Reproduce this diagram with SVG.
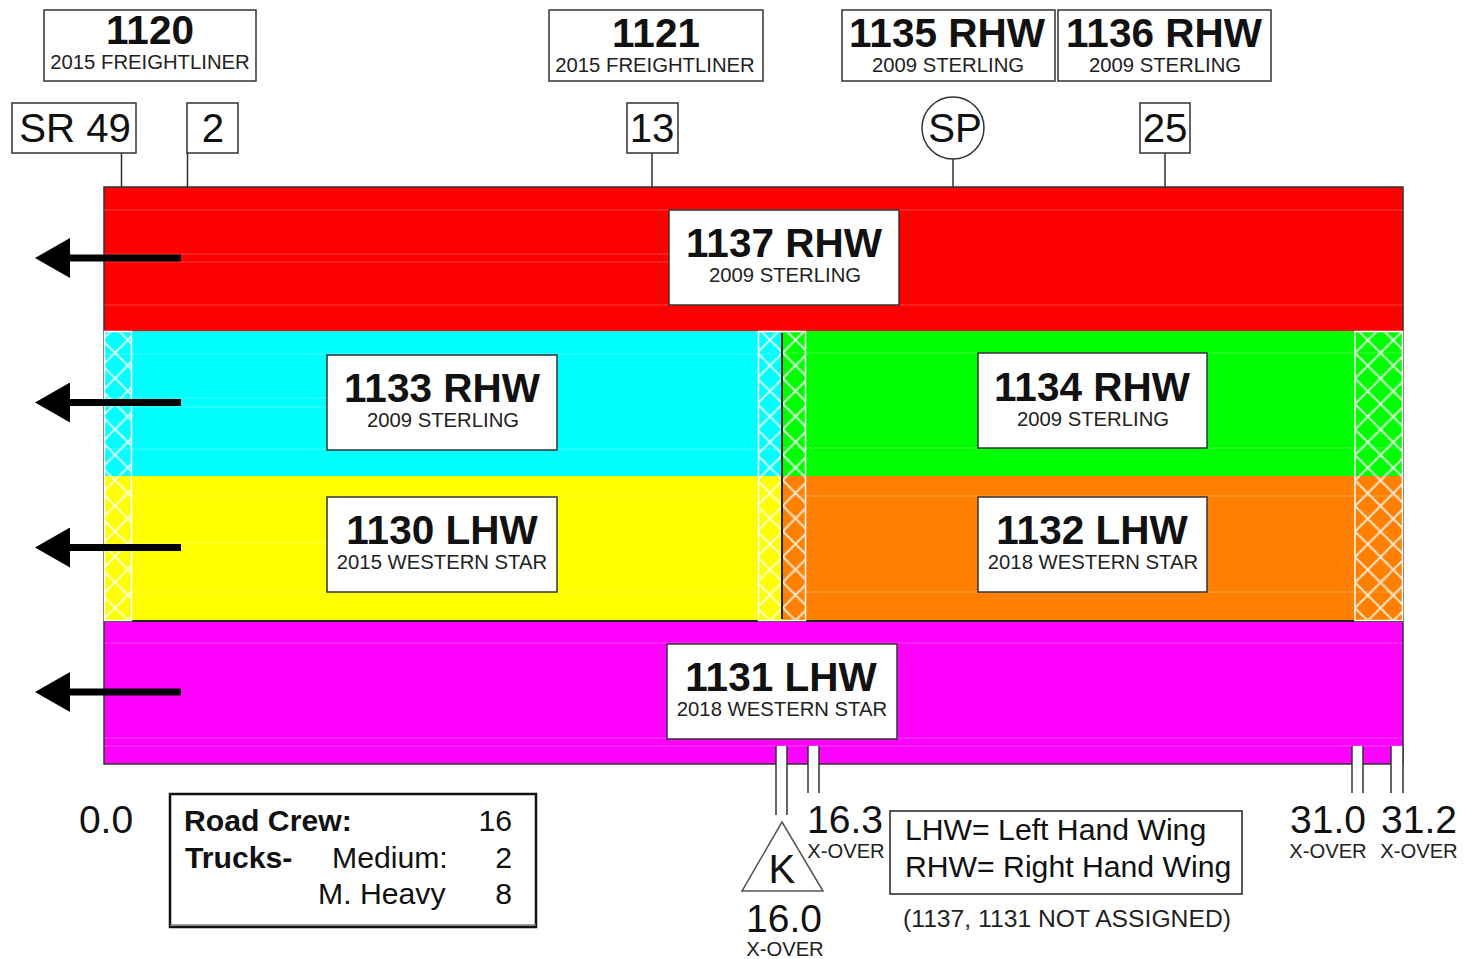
<svg xmlns="http://www.w3.org/2000/svg" width="1466" height="959" viewBox="0 0 1466 959">
<style>
text{font-family:"Liberation Sans",Arial,sans-serif;fill:#111;text-anchor:middle}
.box{fill:#fff;stroke:#333;stroke-width:1.5}
.nm{font-size:40.500px;font-weight:bold}
.sub{font-size:20.300px;fill:#222}
.tag{font-size:40.200px}
.mile{font-size:39px}
.xo{font-size:20.200px;fill:#222}
.ln{stroke:#333;stroke-width:1.5;fill:none}
.faint{stroke:#fff;stroke-opacity:.25;stroke-width:1}
.hb{stroke:#fff;stroke-width:1.5}
.arrow{stroke:#000;stroke-width:7;fill:none}
.leg{font-size:30.200px;text-anchor:start}
</style>
<defs>
<pattern id="h" width="25.500" height="25.500" patternUnits="userSpaceOnUse" x="102.250" y="340">
<path d="M0 0L25.500 25.500M25.500 0L0 25.500" stroke="#fff" stroke-opacity=".8" stroke-width="2" fill="none"/>
</pattern>
<pattern id="h2" href="#h" x="757.250" y="327.250"/>
<pattern id="h3" href="#h" x="1355" y="353"/>
<marker id="ah" markerUnits="userSpaceOnUse" markerWidth="36" markerHeight="40" refX="0" refY="20" orient="auto"><path d="M0 0L0 40L35 20Z" fill="#000"/></marker>
</defs>

<g id="bands">
<rect x="104" y="187" width="1299" height="144" fill="#f00"/>
<rect x="104" y="331" width="678" height="145" fill="#0ff"/>
<rect x="782" y="331" width="621" height="145" fill="#0f0"/>
<rect x="104" y="476" width="678" height="145" fill="#ff0"/>
<rect x="782" y="476" width="621" height="145" fill="#ff8000"/>
<rect x="104" y="621" width="1299" height="143" fill="#f0f"/>
<path class="faint" d="M104 210H1403M104 254H669M104 262H669M104 305H1403M104 354H782M104 398H327M104 407H327M104 449H782M782 353H1403M782 448H1403M104 496H1403M104 543H327M104 592H1403M104 643H1403M104 738H1403M104 746H1403"/>
<path d="M104 621H1403" stroke="#222" stroke-width="2" fill="none"/>
<rect x="104" y="187" width="1299" height="577" fill="none" stroke="#333" stroke-width="1.5"/>
<g class="hb">
<rect x="104.500" y="331.500" width="27" height="289" fill="url(#h)"/>
<rect x="758.500" y="331.500" width="47" height="289" fill="url(#h2)"/>
<rect x="1355" y="331.500" width="47.500" height="289" fill="url(#h3)"/>
</g>
<path d="M782 333V619" stroke="#222" stroke-width="2"/>
</g>

<g id="connectors">
<path class="ln" d="M121.500 153V187M187.500 153V187M652 153V187M953 159V187M1165 153V187"/>
<path class="arrow" d="M181 258H70" marker-end="url(#ah)"/>
<path class="arrow" d="M181 402.500H70" marker-end="url(#ah)"/>
<path class="arrow" d="M181 547.500H70" marker-end="url(#ah)"/>
<path class="arrow" d="M181 692H70" marker-end="url(#ah)"/>
</g>

<g id="xovers">
<rect x="776" y="746" width="11" height="19" fill="#fff"/>
<rect x="808" y="746" width="11" height="19" fill="#fff"/>
<rect x="1352" y="746" width="11" height="19" fill="#fff"/>
<rect x="1391" y="746" width="12" height="19" fill="#fff"/>
<path class="ln" d="M776 746V815M787 746V815M808 746V793M819 746V793M1352 746V793M1363 746V793M1391 746V793M1403 746V793"/>
</g>

<g id="n1120"><rect class="box" x="44" y="10" width="212" height="71"/><text class="nm" x="150" y="44">1120</text><text class="sub" x="150" y="69">2015 FREIGHTLINER</text></g>
<g id="n1121"><rect class="box" x="549" y="10" width="214" height="71"/><text class="nm" x="656" y="47">1121</text><text class="sub" x="655" y="72">2015 FREIGHTLINER</text></g>
<g id="n1135"><rect class="box" x="842" y="10" width="213" height="71"/><text class="nm" x="947" y="47">1135 RHW</text><text class="sub" x="948" y="72">2009 STERLING</text></g>
<g id="n1136"><rect class="box" x="1058" y="10" width="213" height="71"/><text class="nm" x="1164" y="47">1136 RHW</text><text class="sub" x="1165" y="72">2009 STERLING</text></g>

<g id="sr49"><rect class="box" x="12" y="103" width="124" height="50"/><text class="tag" x="75" y="142">SR 49</text></g>
<g id="m2"><rect class="box" x="187" y="103" width="51" height="50"/><text class="tag" x="213" y="142">2</text></g>
<g id="m13"><rect class="box" x="627" y="103" width="51" height="50"/><text class="tag" x="652" y="142">13</text></g>
<g id="sp"><circle class="box" cx="953" cy="128" r="31"/><text class="tag" x="955" y="142">SP</text></g>
<g id="m25"><rect class="box" x="1140" y="103" width="50" height="50"/><text class="tag" x="1165" y="142">25</text></g>

<g id="n1137"><rect class="box" x="669" y="210" width="230" height="95"/><text class="nm" x="784" y="257">1137 RHW</text><text class="sub" x="785" y="282">2009 STERLING</text></g>
<g id="n1133"><rect class="box" x="327" y="355" width="230" height="95"/><text class="nm" x="442" y="402">1133 RHW</text><text class="sub" x="443" y="427">2009 STERLING</text></g>
<g id="n1134"><rect class="box" x="978" y="353" width="229" height="95"/><text class="nm" x="1092" y="401">1134 RHW</text><text class="sub" x="1093" y="426">2009 STERLING</text></g>
<g id="n1130"><rect class="box" x="327" y="497" width="230" height="95"/><text class="nm" x="442" y="544">1130 LHW</text><text class="sub" x="442" y="569">2015 WESTERN STAR</text></g>
<g id="n1132"><rect class="box" x="978" y="497" width="229" height="95"/><text class="nm" x="1092" y="544">1132 LHW</text><text class="sub" x="1093" y="569">2018 WESTERN STAR</text></g>
<g id="n1131"><rect class="box" x="667" y="644" width="230" height="95"/><text class="nm" x="781" y="691">1131 LHW</text><text class="sub" x="782" y="716">2018 WESTERN STAR</text></g>

<g id="m0"><text class="mile" x="106" y="833">0.0</text></g>
<g id="legend">
<rect x="170" y="794" width="366" height="133" fill="#fff" stroke="#111" stroke-width="2.500"/>
<path d="M170 925H536" stroke="#777" stroke-width="1.500"/>
<text class="leg" x="184" y="831" style="font-weight:bold">Road Crew:</text>
<text class="leg" x="185" y="868" style="font-weight:bold">Trucks-</text>
<text class="leg" x="332" y="868">Medium:</text>
<text class="leg" x="318" y="904">M. Heavy</text>
<text class="leg" x="512" y="831" style="text-anchor:end">16</text>
<text class="leg" x="512" y="868" style="text-anchor:end">2</text>
<text class="leg" x="512" y="904" style="text-anchor:end">8</text>
</g>

<g id="k"><path d="M782 822L823 891H742Z" fill="#fff" stroke="#555" stroke-width="1.500"/><text class="tag" x="782" y="883">K</text></g>
<g id="m16"><text class="mile" x="784" y="932">16.0</text><text class="xo" x="785" y="956">X-OVER</text></g>
<g id="m163"><text class="mile" x="845" y="833">16.3</text><text class="xo" x="846" y="858">X-OVER</text></g>
<g id="m310"><text class="mile" x="1328" y="833">31.0</text><text class="xo" x="1328" y="858">X-OVER</text></g>
<g id="m312"><text class="mile" x="1419" y="833">31.2</text><text class="xo" x="1419" y="858">X-OVER</text></g>

<g id="wing"><rect x="890" y="811" width="352" height="83" fill="#fff" stroke="#222" stroke-width="1.500"/>
<text x="905" y="840" style="font-size:30.200px;text-anchor:start">LHW= Left Hand Wing</text>
<text x="905" y="877" style="font-size:30.200px;text-anchor:start">RHW= Right Hand Wing</text></g>
<text x="1067" y="927" style="font-size:24.700px;fill:#222">(1137, 1131 NOT ASSIGNED)</text>
</svg>
